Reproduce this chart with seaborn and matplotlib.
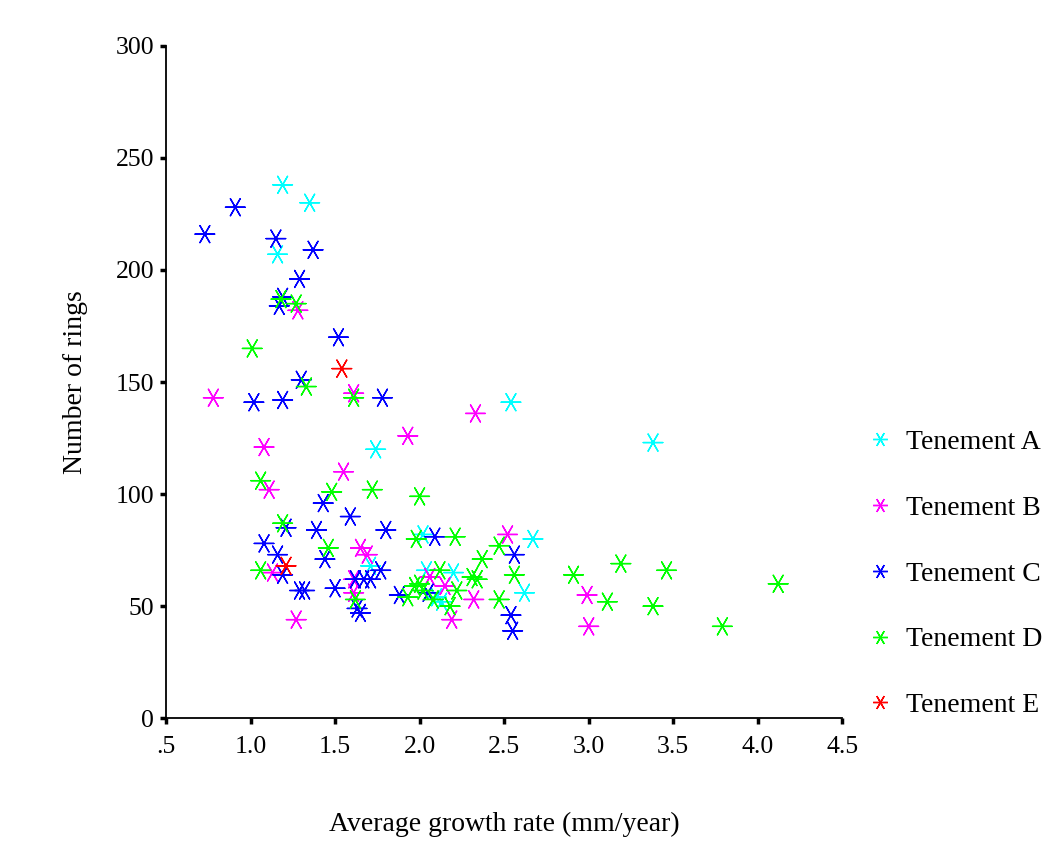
import matplotlib
matplotlib.use("Agg")
import matplotlib.pyplot as plt
import seaborn as sns
import pandas as pd

# Average growth rate (mm/year) and number of rings, per tenement
tenement_a_rate = [1.19, 1.35, 1.16, 2.54, 3.38, 1.74, 2.02, 2.67, 1.71, 2.04, 2.20, 2.10, 2.13, 2.62]
tenement_a_rings = [238, 230, 207, 141, 123, 120, 82, 80, 68, 66, 65, 54, 52, 56]

tenement_b_rate = [1.28, 1.61, 0.78, 2.33, 1.93, 1.08, 1.55, 1.11, 1.65, 1.69, 1.13, 1.61, 1.61,
                   2.52, 2.06, 2.15, 2.32, 2.99, 1.27, 2.19, 3.00]
tenement_b_rings = [182, 145, 143, 136, 126, 121, 110, 102, 76, 73, 65, 62, 56,
                    82, 63, 59, 53, 55, 44, 44, 41]

tenement_c_rate = [0.91, 0.73, 1.15, 1.37, 1.29, 1.19, 1.17, 1.52, 1.30, 1.78, 1.02, 1.19,
                   1.43, 1.59, 1.21, 1.39, 1.80, 1.08, 1.16, 1.44, 1.77, 1.19, 1.67, 1.62,
                   1.71, 1.29, 1.32, 1.50, 1.88, 2.05, 2.09, 2.56, 1.63, 1.65, 2.54, 2.55]
tenement_c_rings = [228, 216, 214, 209, 196, 188, 184, 170, 151, 143, 141, 142,
                    96, 90, 85, 84, 84, 78, 73, 71, 66, 64, 62, 62,
                    62, 57, 57, 58, 55, 56, 81, 73, 49, 47, 46, 39]

tenement_d_rate = [1.18, 1.27, 1.01, 1.33, 1.61, 1.06, 1.48, 1.72, 2.00, 1.19, 1.46, 1.06,
                   1.62, 1.93, 1.97, 1.98, 2.21, 2.47, 2.37, 2.12, 2.31, 2.34, 2.56, 2.91,
                   3.19, 3.46, 4.12, 2.00, 2.22, 2.02, 2.08, 2.18, 2.47, 3.11, 3.38, 3.79]
tenement_d_rings = [187, 185, 165, 148, 143, 106, 101, 102, 99, 87, 76, 66,
                    53, 54, 59, 80, 81, 77, 71, 66, 63, 62, 64, 64,
                    69, 66, 60, 60, 57, 57, 53, 50, 53, 52, 50, 41]

tenement_e_rate = [1.54, 1.21]
tenement_e_rings = [156, 68]

groups = ["Tenement A", "Tenement B", "Tenement C", "Tenement D", "Tenement E"]
colors = ["#00FFFF", "#FF00FF", "#0000FF", "#00FF00", "#FF0000"]

rates = [tenement_a_rate, tenement_b_rate, tenement_c_rate, tenement_d_rate, tenement_e_rate]
rings = [tenement_a_rings, tenement_b_rings, tenement_c_rings, tenement_d_rings, tenement_e_rings]

frames = []
for name, r, n in zip(groups, rates, rings):
    frames.append(pd.DataFrame({"rate": r, "rings": n, "tenement": name}))
df = pd.concat(frames, ignore_index=True)

sns.set_style("white")
plt.rcParams["font.family"] = ["Liberation Serif", "DejaVu Serif"]
plt.rcParams["text.color"] = "black"
plt.rcParams["axes.labelcolor"] = "black"

fig = plt.figure(figsize=(10.57, 8.49), dpi=100)
ax = fig.add_axes([0.157, 0.154, 0.640, 0.792])

asterisk = (6, 2, 90)
sns.scatterplot(data=df, x="rate", y="rings", hue="tenement", hue_order=groups,
                palette=dict(zip(groups, colors)), marker=asterisk, s=200,
                linewidth=1.0, ax=ax, legend=True)

ax.set_xlim(0.5, 4.5)
ax.set_ylim(0, 300)
xticks = [0.5, 1.0, 1.5, 2.0, 2.5, 3.0, 3.5, 4.0, 4.5]
xtick_labels = [".5", "1.0", "1.5", "2.0", "2.5", "3.0", "3.5", "4.0", "4.5"]
ax.set_xticks(xticks)
ax.set_xticklabels(xtick_labels)
ax.set_yticks([0, 50, 100, 150, 200, 250, 300])

for side in ["top", "right"]:
    ax.spines[side].set_visible(False)
for side in ["left", "bottom"]:
    ax.spines[side].set_color("black")
    ax.spines[side].set_linewidth(1.3)

ax.tick_params(axis="both", direction="out", length=4.5, width=2.5, color="black",
               labelsize=18.5, labelcolor="black")
ax.tick_params(axis="x", pad=8, bottom=True)
ax.tick_params(axis="y", pad=4, left=True)

ax.set_xlabel("Average growth rate (mm/year)", fontsize=20, labelpad=39)
ax.set_ylabel("Number of rings", fontsize=20, labelpad=20)

handles, labels = ax.get_legend_handles_labels()
ax.legend(handles, labels, loc="center left", bbox_to_anchor=(0.819, 0.324),
          bbox_transform=fig.transFigure, frameon=False, fontsize=20,
          handlelength=1.0, handletextpad=0.45, labelspacing=1.45,
          borderpad=0, borderaxespad=0, markerscale=0.75)

fig.savefig("out.png", dpi=100, facecolor="white")
